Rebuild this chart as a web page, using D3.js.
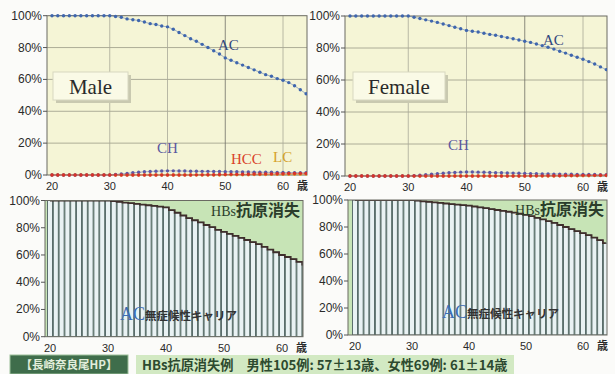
<!DOCTYPE html>
<html>
<head>
<meta charset="utf-8">
<script src="https://cdn.jsdelivr.net/npm/d3@7"></script>
<style>
  body { margin: 0; background: #fbfbf9; }
</style>
</head>
<body>
<div id="chart"></div>
<script>
// ages 20..64, one point per year
const ages = [20, 21, 22, 23, 24, 25, 26, 27, 28, 29, 30,
  31, 32, 33, 34, 35, 36, 37, 38, 39, 40,
  41, 42, 43, 44, 45, 46, 47, 48, 49, 50,
  51, 52, 53, 54, 55, 56, 57, 58, 59, 60,
  61, 62, 63, 64];

const maleAC = [100, 100, 100, 100, 100, 100, 100, 100, 100, 100, 100,
  99.5, 99, 98, 97.5, 97, 96, 95, 94.5, 93.5, 93,
  91.5, 89.5, 87.5, 85.5, 84, 82, 80, 78, 76, 73.5,
  72, 70.5, 69, 67.5, 66, 64.5, 63, 62, 60.5, 59.5,
  58, 56, 53.5, 51];
const maleCH = [0, 0, 0, 0, 0, 0, 0, 0, 0, 0, 0,
  0.3, 0.7, 1.0, 1.4, 1.7, 2.0, 2.2, 2.4, 2.5, 2.6,
  2.6, 2.5, 2.5, 2.4, 2.4, 2.3, 2.3, 2.2, 2.2, 2.1,
  2.0, 2.0, 1.9, 1.9, 1.8, 1.8, 1.7, 1.7, 1.6, 1.6,
  1.5, 1.5, 1.4, 1.4];
const maleHCC = [0, 0, 0, 0, 0, 0, 0, 0, 0, 0, 0,
  0, 0, 0, 0, 0, 0, 0, 0, 0, 0,
  0, 0, 0, 0, 0.1, 0.1, 0.2, 0.2, 0.3, 0.3,
  0.4, 0.4, 0.5, 0.5, 0.6, 0.6, 0.7, 0.7, 0.8, 0.8,
  0.9, 0.9, 1.0, 1.0];
const maleLC = [0, 0, 0, 0, 0, 0, 0, 0, 0, 0, 0,
  0, 0, 0, 0, 0, 0, 0, 0, 0, 0,
  0, 0, 0, 0, 0, 0, 0, 0, 0, 0.1,
  0.1, 0.2, 0.2, 0.2, 0.3, 0.3, 0.3, 0.4, 0.4, 0.4,
  0.5, 0.5, 0.5, 0.6];

const femaleAC = [100, 100, 100, 100, 100, 100, 100, 100, 100, 100, 100,
  99.2, 98.4, 97.6, 96.8, 96, 95, 94, 93, 92, 91,
  90.5, 90, 89.2, 88.5, 88, 87.2, 86.5, 85.8, 85, 84.2,
  83.5, 82.5, 81.5, 80.5, 79.3, 78, 76.8, 75.5, 74.2, 73,
  71.5, 70, 68.2, 66.5];
const femaleCH = [0, 0, 0, 0, 0, 0, 0, 0, 0, 0, 0,
  0.2, 0.5, 0.8, 1.1, 1.4, 1.7, 2.0, 2.2, 2.4, 2.5,
  2.5, 2.4, 2.3, 2.2, 2.1, 2.0, 1.9, 1.8, 1.7, 1.6,
  1.5, 1.4, 1.3, 1.3, 1.2, 1.2, 1.1, 1.1, 1.0, 1.0,
  0.9, 0.9, 0.8, 0.8];
const femaleHCC = [0, 0, 0, 0, 0, 0, 0, 0, 0, 0, 0,
  0, 0, 0, 0, 0, 0, 0, 0, 0, 0,
  0, 0, 0, 0, 0, 0, 0, 0, 0, 0,
  0.1, 0.1, 0.1, 0.2, 0.2, 0.2, 0.3, 0.3, 0.3, 0.4,
  0.4, 0.4, 0.5, 0.5];
const femaleLC = [0, 0, 0, 0, 0, 0, 0, 0, 0, 0, 0,
  0, 0, 0, 0, 0, 0, 0, 0, 0, 0,
  0, 0, 0, 0, 0, 0, 0, 0, 0, 0,
  0, 0, 0, 0, 0, 0.1, 0.1, 0.1, 0.2, 0.2,
  0.2, 0.3, 0.3, 0.3];

// HBs antigen still positive (bar charts)
const maleBars = [100, 100, 100, 100, 100, 100, 100, 100, 100, 100, 100,
  99.5, 99, 98.5, 98, 97.5, 97, 96.5, 96, 95.5, 95,
  93, 91, 89, 87, 85.5, 84, 82, 80.5, 78.5, 77,
  75.5, 74, 72.5, 71, 69.5, 68, 66, 64, 62, 60,
  58.5, 57, 55, 53];
const femaleBars = [100, 100, 100, 100, 100, 100, 100, 100, 100, 100, 100,
  99.5, 99, 98.6, 98.2, 97.8, 97.4, 97, 96.6, 96.2, 95.8,
  95.2, 94.6, 94, 93.3, 92.6, 92, 91.3, 90.6, 89.8, 89,
  88, 86.8, 85.6, 84.3, 83, 81.5, 80, 78.5, 77, 75.5,
  74, 72.2, 70.3, 68];

const yTicks = [0, 20, 40, 60, 80, 100];
const xTicks = [20, 30, 40, 50, 60];
const ageUnit = "歳";
const caption = "【長崎奈良尾HP】";
const note = "HBs抗原消失例　男性105例: 57±13歳、女性69例: 61±14歳";

const serif = "'Liberation Serif', 'DejaVu Serif', serif";
const sans = "'Liberation Sans', Arial, sans-serif";
const cjk = "'Noto Sans CJK JP', sans-serif";

const svg = d3.select("#chart")
  .append("svg")
  .attr("width", 615)
  .attr("height", 374)
  .style("display", "block");

svg.append("rect").attr("width", 615).attr("height", 374).attr("fill", "#fbfbf9");

function makeScales(p) {
  const x = d3.scaleLinear().domain([20, 60]).range([p.x20, p.x60]);
  const y = d3.scaleLinear().domain([0, 100]).range([p.bottom, p.top]);
  return { x, y };
}

function drawAxes(g, p, x, y) {
  g.append("g")
    .selectAll("text")
    .data(yTicks)
    .join("text")
    .attr("x", p.left - 5)
    .attr("y", (d) => y(d) + 4)
    .attr("text-anchor", "end")
    .attr("font-family", sans)
    .attr("font-size", 12)
    .attr("fill", "#2a2a2a")
    .text((d) => d + "%");

  g.append("g")
    .selectAll("line")
    .data(yTicks)
    .join("line")
    .attr("x1", p.left - 4)
    .attr("x2", p.left)
    .attr("y1", (d) => y(d))
    .attr("y2", (d) => y(d))
    .attr("stroke", "#555");

  g.append("g")
    .selectAll("text")
    .data(xTicks)
    .join("text")
    .attr("x", (d) => x(d))
    .attr("y", p.bottom + 15)
    .attr("text-anchor", "middle")
    .attr("font-family", sans)
    .attr("font-size", 11)
    .attr("fill", "#2a2a2a")
    .text((d) => d);

  g.append("text")
    .attr("x", x(60) + 14)
    .attr("y", p.bottom + 15)
    .attr("font-family", cjk)
    .attr("font-weight", 700)
    .attr("font-size", 11)
    .attr("fill", "#2a2a2a")
    .text(ageUnit);
}

function lineChart(p, name, series, labels) {
  const { x, y } = makeScales(p);
  const g = svg.append("g");
  const clipId = "clip-" + name;

  g.append("clipPath").attr("id", clipId)
    .append("rect")
    .attr("x", p.left).attr("y", p.top - 3)
    .attr("width", p.right - p.left).attr("height", p.bottom - p.top + 6);

  g.append("rect")
    .attr("x", p.left).attr("y", p.top)
    .attr("width", p.right - p.left).attr("height", p.bottom - p.top)
    .attr("fill", "#f5f5d6");

  g.append("g")
    .selectAll("line")
    .data(yTicks.slice(1, -1))
    .join("line")
    .attr("x1", p.left).attr("x2", p.right)
    .attr("y1", (d) => y(d)).attr("y2", (d) => y(d))
    .attr("stroke", "#9a9a88")
    .attr("stroke-width", 0.8);

  g.append("g")
    .selectAll("line")
    .data(xTicks.slice(1))
    .join("line")
    .attr("x1", (d) => x(d)).attr("x2", (d) => x(d))
    .attr("y1", p.top).attr("y2", p.bottom)
    .attr("stroke", (d) => (d === 50 ? "#6e6e66" : "#a8a898"))
    .attr("stroke-width", 0.8);

  g.append("rect")
    .attr("x", p.left).attr("y", p.top)
    .attr("width", p.right - p.left).attr("height", p.bottom - p.top)
    .attr("fill", "none")
    .attr("stroke", "#6a6a62");

  // sex label box with shadow
  const bw = p.boxW;
  g.append("rect")
    .attr("x", p.boxX + 3).attr("y", 75)
    .attr("width", bw).attr("height", 28)
    .attr("fill", "#c9c9b0");
  g.append("rect")
    .attr("x", p.boxX).attr("y", 72)
    .attr("width", bw).attr("height", 28)
    .attr("fill", "#fafae6")
    .attr("stroke", "#d8d8c0");
  g.append("text")
    .attr("x", p.boxX + bw / 2).attr("y", 94)
    .attr("text-anchor", "middle")
    .attr("font-family", serif)
    .attr("font-size", 21)
    .attr("fill", "#2a2a2a")
    .text(p.sex);

  const plot = g.append("g").attr("clip-path", `url(#${clipId})`);
  series.forEach((s) => {
    const pts = ages.map((a, i) => [x(a), y(s.values[i])]);
    plot.append("path")
      .attr("d", d3.line()(pts))
      .attr("fill", "none")
      .attr("stroke", s.color)
      .attr("stroke-width", 0.8)
      .attr("stroke-opacity", 0.6);
    plot.append("g")
      .selectAll("circle")
      .data(pts)
      .join("circle")
      .attr("cx", (d) => d[0])
      .attr("cy", (d) => d[1])
      .attr("r", 1.7)
      .attr("fill", s.color);
  });

  labels.forEach((l) => {
    g.append("text")
      .attr("x", l.x).attr("y", l.y)
      .attr("font-family", serif)
      .attr("font-size", 15)
      .attr("fill", l.color)
      .text(l.text);
  });

  drawAxes(g, p, x, y);
}

function barChart(p, name, values) {
  const { x, y } = makeScales(p);
  const g = svg.append("g");
  const clipId = "clip-" + name;

  g.append("clipPath").attr("id", clipId)
    .append("rect")
    .attr("x", p.left).attr("y", p.top)
    .attr("width", p.right - p.left).attr("height", p.bottom - p.top);

  g.append("rect")
    .attr("x", p.left).attr("y", p.top)
    .attr("width", p.right - p.left).attr("height", p.bottom - p.top)
    .attr("fill", "#c7e4b6");

  const step = x(21) - x(20);
  const plot = g.append("g").attr("clip-path", `url(#${clipId})`);

  plot.append("g")
    .selectAll("rect")
    .data(ages)
    .join("rect")
    .attr("x", (d) => x(d) - step / 2 + 0.4)
    .attr("y", (d, i) => y(values[i]))
    .attr("width", step - 0.8)
    .attr("height", (d, i) => p.bottom - y(values[i]))
    .attr("fill", "#e9f2f3")
    .attr("stroke", "#4e6262")
    .attr("stroke-width", 0.9);

  const tops = ages.map((a, i) => [x(a), y(values[i])]);
  plot.append("path")
    .attr("d", d3.line().curve(d3.curveStep)(tops))
    .attr("fill", "none")
    .attr("stroke", "#3f2f2c")
    .attr("stroke-width", 1.8);

  g.append("rect")
    .attr("x", p.left).attr("y", p.top)
    .attr("width", p.right - p.left).attr("height", p.bottom - p.top)
    .attr("fill", "none")
    .attr("stroke", "#6a6a62");

  const lost = g.append("text")
    .attr("x", p.right - 3).attr("y", p.top + 15)
    .attr("text-anchor", "end")
    .attr("fill", "#2b3d2b");
  lost.append("tspan").attr("font-family", serif).attr("font-size", 14).text("HBs");
  lost.append("tspan").attr("font-family", cjk).attr("font-weight", 700).attr("font-size", 16).text("抗原消失");

  const ac = g.append("text")
    .attr("x", p.acX).attr("y", p.bottom - 17)
    .attr("fill", "#333");
  ac.append("tspan").attr("font-family", serif).attr("font-size", 18).attr("fill", "#3b6db4").text("AC");
  ac.append("tspan").attr("font-family", cjk).attr("font-weight", 700).attr("font-size", 11.5).text("無症候性キャリア");

  drawAxes(g, p, x, y);
}

lineChart(
  { left: 47, right: 307, top: 15.7, bottom: 175, x20: 52, x60: 283, boxX: 53, boxW: 75, sex: "Male" },
  "tl",
  [
    { values: maleLC, color: "#e0a32e" },
    { values: maleCH, color: "#5c5aa6" },
    { values: maleHCC, color: "#d8322a" },
    { values: maleAC, color: "#3f66ad" },
  ],
  [
    { text: "AC", x: 218, y: 50, color: "#33487e" },
    { text: "CH", x: 157, y: 153, color: "#5a58a0" },
    { text: "HCC", x: 231, y: 164, color: "#d9432a" },
    { text: "LC", x: 273, y: 162, color: "#d6a22a" },
  ]
);

lineChart(
  { left: 345, right: 607, top: 16, bottom: 176, x20: 350, x60: 583, boxX: 353, boxW: 92, sex: "Female" },
  "tr",
  [
    { values: femaleLC, color: "#e0a32e" },
    { values: femaleCH, color: "#5c5aa6" },
    { values: femaleHCC, color: "#d8322a" },
    { values: femaleAC, color: "#3f66ad" },
  ],
  [
    { text: "AC", x: 543, y: 45, color: "#33487e" },
    { text: "CH", x: 448, y: 150, color: "#5a58a0" },
  ]
);

barChart({ left: 45, right: 303, top: 200.5, bottom: 336.7, x20: 50, x60: 282, acX: 120 }, "bl", maleBars);
barChart({ left: 348, right: 607, top: 200, bottom: 335, x20: 355, x60: 583, acX: 442 }, "br", femaleBars);

// caption strip
svg.append("rect")
  .attr("x", 10).attr("y", 355)
  .attr("width", 118).attr("height", 19)
  .attr("fill", "#3f6d4b")
  .attr("stroke", "#9cc09a");
svg.append("text")
  .attr("x", 69).attr("y", 369)
  .attr("text-anchor", "middle")
  .attr("font-family", cjk)
  .attr("font-weight", 700)
  .attr("font-size", 11.5)
  .attr("fill", "#e2eedb")
  .text(caption);

svg.append("rect")
  .attr("x", 136).attr("y", 355)
  .attr("width", 378).attr("height", 19)
  .attr("fill", "#d2e9c3");
svg.append("text")
  .attr("x", 142).attr("y", 370)
  .attr("font-family", cjk)
  .attr("font-weight", 700)
  .attr("font-size", 13.2)
  .attr("fill", "#2d4a2f")
  .text(note);
</script>
</body>
</html>
